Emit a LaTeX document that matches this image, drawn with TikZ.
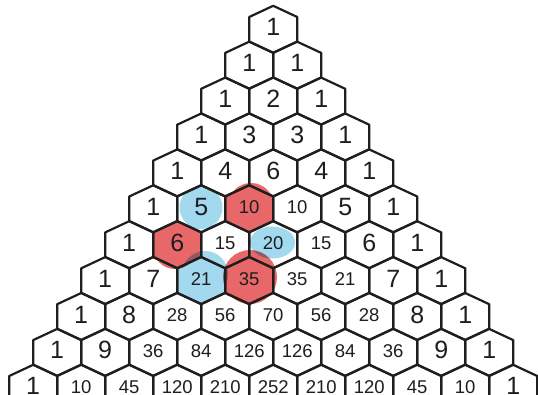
\documentclass[tikz,border=0pt]{standalone}
\usepackage{fontspec}
\setmainfont{Liberation Sans}
\definecolor{hlred}{RGB}{232,104,106}
\definecolor{hlblue}{RGB}{163,217,239}
\definecolor{ink}{RGB}{30,30,30}
\newcommand\pascalrow[2]{%
  \foreach \v [count=\k from 0] in {#2} {%
    \pgfmathsetmacro\cx{273.2-24*#1+48*\k}%
    \pgfmathsetmacro\cy{29.25+35.9*#1}%
    \draw[hexline,hexat={\cx}{\cy}];%
    \ifnum\v<10\relax
      \node[num,numbig] (c-#1-\k) at (\cx,\cy-2) {\v};%
    \else
      \node[num,numsmall] (c-#1-\k) at (\cx,\cy-1.5) {\v};%
    \fi
  }}
\begin{document}
\begin{tikzpicture}[x=1pt,y=-1pt,
  hexline/.style={draw=ink,line width=2.2pt,line join=round},
  num/.style={inner sep=0pt,text=ink},
  numbig/.style={font=\fontsize{25}{25}\selectfont},
  numsmall/.style={font=\fontsize{18.5}{18.5}\selectfont},
  hexat/.style 2 args={insert path={(#1,#2) ++(0,-23.45) -- ++(24,11.2) -- ++(0,24.5) -- ++(-24,11.2) -- ++(-24,-11.2) -- ++(0,-24.5) -- cycle}},
  bluehl/.style={fill=hlblue,blend mode=multiply},
  redhl/.style={fill=hlred,blend mode=multiply}]
\useasboundingbox (0,0) rectangle (538,394);
\clip (0,0) rectangle (538,394);
% highlights
\fill[bluehl] (201,207.5) circle[radius=21.5];
\fill[bluehl] (272.5,242.5) ellipse[x radius=22.5,y radius=16];
\fill[bluehl,hexat={201.2}{280.55}] (205,274) circle[radius=23];
\fill[redhl,hexat={249.2}{208.75}] (251,206) circle[radius=23];
\fill[redhl,hexat={177.2}{244.65}] (175,247) circle[radius=22];
\fill[redhl,hexat={249.2}{280.55}] (250,277) circle[radius=27];
% triangle
\pascalrow{0}{1}
\pascalrow{1}{1,1}
\pascalrow{2}{1,2,1}
\pascalrow{3}{1,3,3,1}
\pascalrow{4}{1,4,6,4,1}
\pascalrow{5}{1,5,10,10,5,1}
\pascalrow{6}{1,6,15,20,15,6,1}
\pascalrow{7}{1,7,21,35,35,21,7,1}
\pascalrow{8}{1,8,28,56,70,56,28,8,1}
\pascalrow{9}{1,9,36,84,126,126,84,36,9,1}
\pascalrow{10}{1,10,45,120,210,252,210,120,45,10,1}
\end{tikzpicture}
\end{document}
